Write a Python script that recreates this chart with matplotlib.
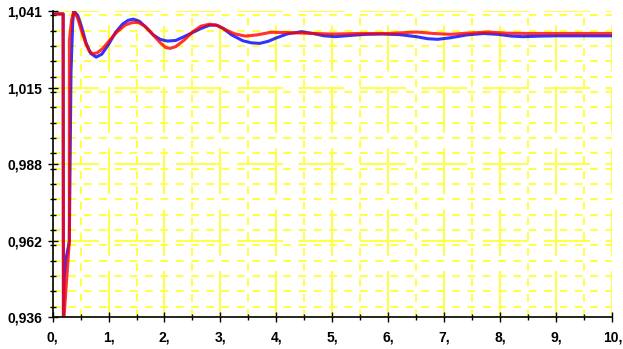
import matplotlib
matplotlib.use("Agg")
import matplotlib.pyplot as plt
from matplotlib.ticker import FixedLocator, MultipleLocator

# blue trace: time, value
blue_t = [0.0, 0.19, 0.195, 0.21, 0.24, 0.30, 0.33, 0.36, 0.38, 0.45, 0.52, 0.60,
          0.68, 0.78, 0.88, 1.00, 1.12, 1.25, 1.35, 1.44, 1.55, 1.68, 1.80, 1.92,
          2.05, 2.20, 2.35, 2.50, 2.65, 2.80, 2.92, 3.05, 3.20, 3.40, 3.55, 3.70,
          3.85, 4.00, 4.20, 4.45, 4.65, 4.85, 5.05, 5.30, 5.60, 5.90, 6.20, 6.50,
          6.70, 6.88, 7.10, 7.40, 7.70, 7.95, 8.20, 8.40, 8.70, 9.00, 10.0]
blue_v = [1.040, 1.040, 0.936, 0.950, 0.956, 0.962, 1.020, 1.037, 1.041, 1.0395, 1.0355, 1.030,
          1.0265, 1.0252, 1.0262, 1.0295, 1.0335, 1.0365, 1.0378, 1.0382, 1.0375, 1.0352, 1.0328, 1.0313,
          1.0307, 1.0309, 1.0322, 1.0336, 1.0350, 1.0361, 1.0362, 1.0350, 1.0328, 1.0308, 1.0301, 1.0299,
          1.0306, 1.0318, 1.0332, 1.0339, 1.0333, 1.0325, 1.0322, 1.0326, 1.0330, 1.0331, 1.0329, 1.0322,
          1.0315, 1.0313, 1.0318, 1.0328, 1.0333, 1.0330, 1.0324, 1.0322, 1.0324, 1.0325, 1.0325]

# red trace: time, value
red_t = [0.0, 0.19, 0.195, 0.205, 0.30, 0.301, 0.34, 0.38, 0.45, 0.52, 0.60, 0.66,
         0.72, 0.80, 0.90, 1.00, 1.15, 1.30, 1.42, 1.53, 1.65, 1.78, 1.92, 2.02,
         2.10, 2.20, 2.35, 2.50, 2.65, 2.81, 2.95, 3.10, 3.25, 3.44, 3.65, 3.90,
         4.20, 4.50, 5.00, 5.50, 6.00, 6.30, 6.50, 6.80, 7.10, 7.40, 7.78, 8.10,
         8.50, 10.0]
red_v = [1.040, 1.040, 0.936, 0.936, 0.962, 1.031, 1.038, 1.041, 1.0385, 1.034, 1.0295, 1.0272,
         1.0263, 1.0267, 1.0282, 1.0305, 1.0338, 1.0362, 1.0370, 1.0371, 1.0358, 1.0332, 1.0302, 1.0285,
         1.0282, 1.0288, 1.0310, 1.0338, 1.0358, 1.0365, 1.0360, 1.0345, 1.0332, 1.0324, 1.0328, 1.0337,
         1.0336, 1.0334, 1.0331, 1.0333, 1.0333, 1.0336, 1.0338, 1.0333, 1.0330, 1.0334, 1.0338, 1.0334,
         1.0333, 1.0333]

y_ticks = [0.936, 0.96225, 0.9885, 1.01475, 1.041]
y_labels = ["0,936", "0,962", "0,988", "1,015", "1,041"]
x_ticks = list(range(0, 11))
x_labels = ["{},".format(i) for i in x_ticks]

plt.rcParams["font.family"] = ["Liberation Sans", "DejaVu Sans"]
plt.rcParams["lines.scale_dashes"] = False

fig = plt.figure(figsize=(6.23, 3.49), dpi=100)
ax = fig.add_axes([0.0843, 0.0903, 0.8987, 0.8782])

ax.set_xlim(0, 10)
ax.set_ylim(0.936, 1.041)

ax.xaxis.set_major_locator(FixedLocator(x_ticks))
ax.xaxis.set_minor_locator(MultipleLocator(0.5))
ax.yaxis.set_major_locator(FixedLocator(y_ticks))
ax.yaxis.set_minor_locator(MultipleLocator((y_ticks[1] - y_ticks[0]) / 5))

# dash unit = one minor y step (~11 pt); major lines 3 on / 1 off, minor half/half
u = 11.05
grid_col = "#ffff40"
ax.grid(True, which="major", axis="both", color=grid_col, lw=1.4, ls=(0, (3 * u, u)))
ax.grid(True, which="minor", axis="both", color=grid_col, lw=1.4, ls=(0, (u / 2, u / 2)))
ax.set_axisbelow(True)

ax.plot(blue_t, blue_v, color="#0000ff", lw=2.2, alpha=0.8, solid_joinstyle="round")
ax.plot(red_t, red_v, color="#ff0000", lw=2.2, alpha=0.8, solid_joinstyle="round")

ax.set_xticklabels(x_labels)
ax.set_yticklabels(y_labels)
ax.tick_params(which="major", direction="inout", length=7, width=1, colors="black",
               labelsize=10)
ax.tick_params(which="minor", direction="inout", length=5, width=1, colors="black")
for lab in ax.get_xticklabels() + ax.get_yticklabels():
    lab.set_fontweight("bold")
ax.tick_params(axis="x", pad=6)
ax.tick_params(axis="y", pad=4)

for side in ("top", "right"):
    ax.spines[side].set_visible(False)
for side in ("left", "bottom"):
    ax.spines[side].set_linewidth(1.2)

fig.savefig("out.png", dpi=100)
